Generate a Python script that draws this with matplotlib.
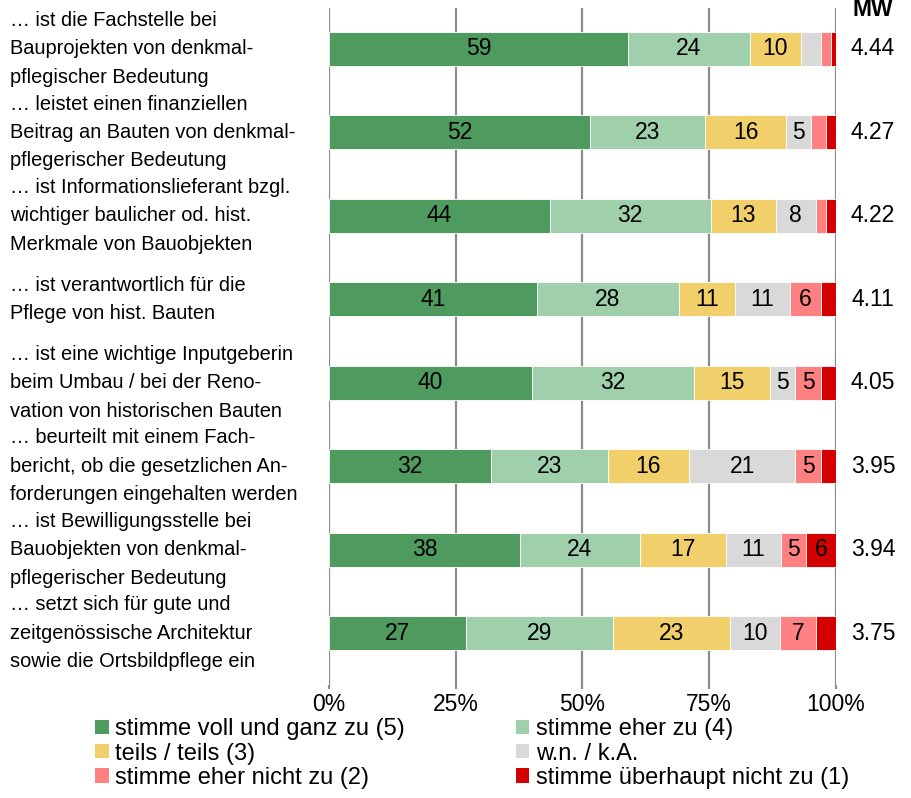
import numpy as np
import matplotlib
matplotlib.use('Agg')
import matplotlib.pyplot as plt
from matplotlib.patches import Patch

plt.rcParams['font.family'] = ['Liberation Sans', 'DejaVu Sans']

# statements (top to bottom)
labels = [
    '… ist die Fachstelle bei\nBauprojekten von denkmal-\npflegischer Bedeutung',
    '… leistet einen finanziellen\nBeitrag an Bauten von denkmal-\npflegerischer Bedeutung',
    '… ist Informationslieferant bzgl.\nwichtiger baulicher od. hist.\nMerkmale von Bauobjekten',
    '… ist verantwortlich für die\nPflege von hist. Bauten',
    '… ist eine wichtige Inputgeberin\nbeim Umbau / bei der Reno-\nvation von historischen Bauten',
    '… beurteilt mit einem Fach-\nbericht, ob die gesetzlichen An-\nforderungen eingehalten werden',
    '… ist Bewilligungsstelle bei\nBauobjekten von denkmal-\npflegerischer Bedeutung',
    '… setzt sich für gute und\nzeitgenössische Architektur\nsowie die Ortsbildpflege ein',
]

series_names = ['stimme voll und ganz zu (5)', 'stimme eher zu (4)', 'teils / teils (3)',
                'w.n. / k.A.', 'stimme eher nicht zu (2)', 'stimme überhaupt nicht zu (1)']
voll = [59, 52, 44, 41, 40, 32, 38, 27]
eher = [24, 23, 32, 28, 32, 23, 24, 29]
teils = [10, 16, 13, 11, 15, 16, 17, 23]
wnka = [4, 5, 8, 11, 5, 21, 11, 10]
eher_nicht = [2, 3, 2, 6, 5, 5, 5, 7]
gar_nicht = [1, 2, 2, 3, 3, 3, 6, 4]
mw = ['4.44', '4.27', '4.22', '4.11', '4.05', '3.95', '3.94', '3.75']

colors = ['#4F9B5F', '#A0CFAB', '#F1CF6B', '#D9D9D9', '#FF8080', '#D40000']

data = np.array([voll, eher, teils, wnka, eher_nicht, gar_nicht], dtype=float)
pct = data / data.sum(axis=0) * 100

FS = 16.5

fig = plt.figure(figsize=(9.12, 7.98), dpi=100)
ax = fig.add_axes([0.3607, 0.1416, 0.5560, 0.8484])

y = np.arange(len(labels))
left = np.zeros(len(labels))
for i in range(len(series_names)):
    ax.barh(y, pct[i], left=left, height=0.41, color=colors[i],
            edgecolor='white', linewidth=0.6, zorder=3)
    for j in range(len(labels)):
        if data[i, j] >= 5:
            ax.text(left[j] + pct[i, j] / 2, y[j], f'{int(data[i, j])}',
                    ha='center', va='center', fontsize=FS, color='black', zorder=4)
    left += pct[i]

ax.set_xlim(0, 100)
ax.set_ylim(7.62, -0.49)
ax.set_xticks([0, 25, 50, 75, 100])
ax.set_xticklabels(['0%', '25%', '50%', '75%', '100%'], fontsize=FS)
ax.set_yticks([])
ax.grid(axis='x', color='#8C8C8C', linewidth=1.6, zorder=0)
for s in ax.spines.values():
    s.set_visible(False)
ax.tick_params(axis='x', length=3, width=1.6, color='#8C8C8C', pad=3)

for j, lab in enumerate(labels):
    yf = ax.transData.transform((0, y[j]))[1]
    yf = fig.transFigure.inverted().transform((0, yf))[1]
    fig.text(10 / 912, yf, lab, ha='left', va='center', fontsize=14.4, linespacing=1.62)
    fig.text(873 / 912, yf, mw[j], ha='center', va='center', fontsize=FS)

fig.text(873 / 912, 1 - 10 / 798, 'MW', ha='center', va='center', fontsize=FS, fontweight='bold')

# legend filled row by row like the original
order = [0, 2, 4, 1, 3, 5]
handles = [Patch(facecolor=colors[k], edgecolor='none') for k in order]
fig.legend(handles, [series_names[k] for k in order], loc='upper left',
           bbox_to_anchor=(94 / 912, 1 - 717 / 798), ncol=2, frameon=False,
           fontsize=17, handlelength=0.57, handleheight=0.57, handletextpad=0.28,
           columnspacing=4.7, labelspacing=0.1, borderpad=0.05, borderaxespad=0)

fig.savefig('out.png', dpi=100)
